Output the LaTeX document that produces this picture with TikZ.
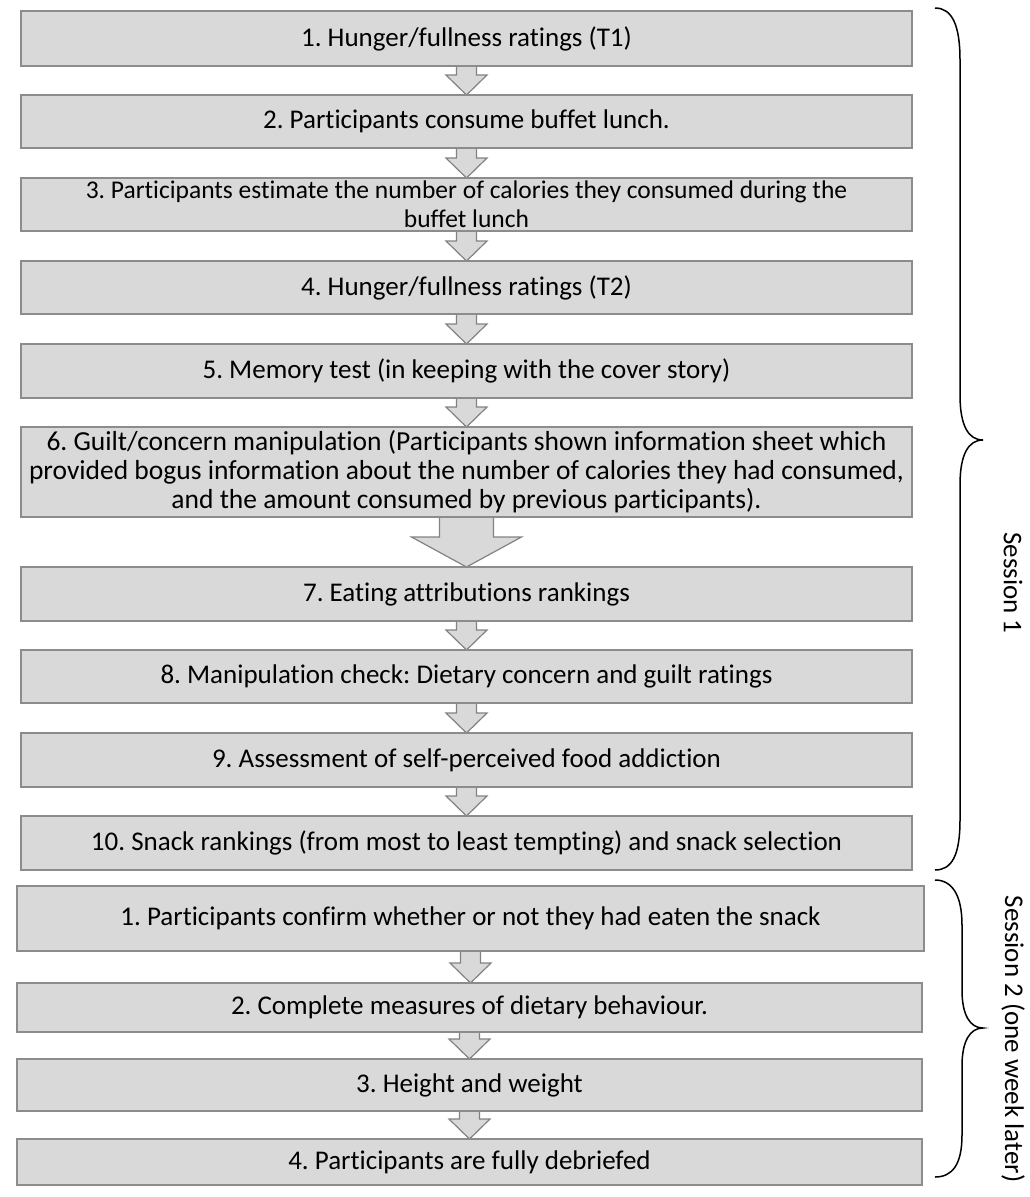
\documentclass[tikz,border=0pt]{standalone}
\usepackage{fontspec}
\setmainfont{Carlito}[Ligatures=NoCommon]
\frenchspacing
\usetikzlibrary{calc}
\definecolor{boxfill}{RGB}{217,217,217}
\definecolor{boxline}{RGB}{140,140,140}
\definecolor{arrline}{RGB}{130,130,130}
\tikzset{
  stepbox/.style={draw=boxline, fill=boxfill, line width=1.5pt, inner sep=0pt, outer sep=0pt,
    align=center, font=\fontsize{27}{29}\selectfont, text=black},
  fs/.style={font=\fontsize{#1}{29}\selectfont},
  blockarrow/.style={draw=arrline, fill=boxfill, line width=1.2pt, line join=miter},
  bracestyle/.style={draw=black, line width=1.5pt},
  sesslabel/.style={font=\fontsize{27}{32}\selectfont, rotate=-90, inner sep=0pt}
}
\newcommand\blockarr[5]{%
  \draw[blockarrow] let \p1=(#1.south), \p2=(#2.north) in
    (\x1-#3pt,\y1) -- (\x1-#3pt,\y2+#5pt) -- (\x1-#4pt,\y2+#5pt) -- (\x1,\y2)
    -- (\x1+#4pt,\y2+#5pt) -- (\x1+#3pt,\y2+#5pt) -- (\x1+#3pt,\y1);}
\begin{document}
\begin{tikzpicture}[x=1pt,y=-1pt]
\useasboundingbox (0,0) rectangle (1030,1197);
% Session 1 boxes
\path
 (466.5,38.5) node[stepbox, minimum width=891pt, minimum height=55pt] (b1) {1. Hunger/fullness ratings (T1)}
 (466.5,121.5) node[stepbox, minimum width=891pt, minimum height=53pt] (b2) {2. Participants consume buffet lunch.}
 (466.5,204.5) node[stepbox, fs=25.5, minimum width=891pt, minimum height=53pt] (b3) {3. Participants estimate the number of calories they consumed during the\\buffet lunch}
 (466.5,287.5) node[stepbox, minimum width=891pt, minimum height=53pt] (b4) {4. Hunger/fullness ratings (T2)}
 (466.5,371) node[stepbox, minimum width=891pt, minimum height=54pt] (b5) {5. Memory test (in keeping with the cover story)}
 (466.5,472) node[stepbox, fs=27.5, minimum width=891pt, minimum height=90pt] (b6) {6. Guilt/concern manipulation (Participants shown information sheet which\\provided bogus information about the number of calories they had consumed,\\and the amount consumed by previous participants).}
 (466.5,594) node[stepbox, minimum width=891pt, minimum height=54pt] (b7) {7. Eating attributions rankings}
 (466.5,676.5) node[stepbox, minimum width=891pt, minimum height=53pt] (b8) {8. Manipulation check: Dietary concern and guilt ratings}
 (466.5,760) node[stepbox, minimum width=891pt, minimum height=54pt] (b9) {9. Assessment of self-perceived food addiction}
 (466.5,843) node[stepbox, minimum width=891pt, minimum height=54pt] (b10) {10. Snack rankings (from most to least tempting) and snack selection};
% Session 2 boxes
\path
 (470.5,918.5) node[stepbox, minimum width=907pt, minimum height=65pt] (s1) {1. Participants confirm whether or not they had eaten the snack}
 (469.5,1007.5) node[stepbox, minimum width=905pt, minimum height=49pt] (s2) {2. Complete measures of dietary behaviour.}
 (469.5,1085) node[stepbox, minimum width=905pt, minimum height=52pt] (s3) {3. Height and weight}
 (469.5,1162) node[stepbox, minimum width=905pt, minimum height=46pt] (s4) {4. Participants are fully debriefed};
% block arrows
\blockarr{b1}{b2}{10}{20.5}{20}
\blockarr{b2}{b3}{10}{20.5}{20}
\blockarr{b3}{b4}{10}{20.5}{20}
\blockarr{b4}{b5}{10}{20.5}{20}
\blockarr{b5}{b6}{10}{20.5}{20}
\blockarr{b6}{b7}{27}{55}{30}
\blockarr{b7}{b8}{10}{20.5}{20}
\blockarr{b8}{b9}{10}{20.5}{20}
\blockarr{b9}{b10}{10}{20.5}{20}
\blockarr{s1}{s2}{10}{20.5}{20}
\blockarr{s2}{s3}{10}{20.5}{20}
\blockarr{s3}{s4}{10}{20.5}{20}
% redraw box borders on top of arrow stems
\foreach \n in {b1,b2,b3,b4,b5,b6,b7,b8,b9,b10,s1,s2,s3,s4}{
  \draw[draw=boxline, line width=1.5pt] (\n.north west) rectangle (\n.south east);
}
% braces
\draw[bracestyle] (935,8) .. controls (952,8) and (960,25) .. (960,60) -- (960,395)
  .. controls (960,425) and (968,440) .. (983,440)
  .. controls (968,440) and (960,455) .. (960,485) -- (960,820)
  .. controls (960,855) and (952,870) .. (935,870);
\draw[bracestyle] (935,880) .. controls (952,880) and (962,895) .. (962,925) -- (962,990)
  .. controls (962,1015) and (970,1028) .. (983,1028)
  .. controls (970,1028) and (962,1041) .. (962,1066) -- (962,1135)
  .. controls (962,1165) and (952,1177) .. (935,1177);
\node[sesslabel] (sess1) at (1013,583) {Session 1};
\node[sesslabel] (sess2) at (1013,1039) {Session 2 (one week later)};
\end{tikzpicture}
\end{document}
